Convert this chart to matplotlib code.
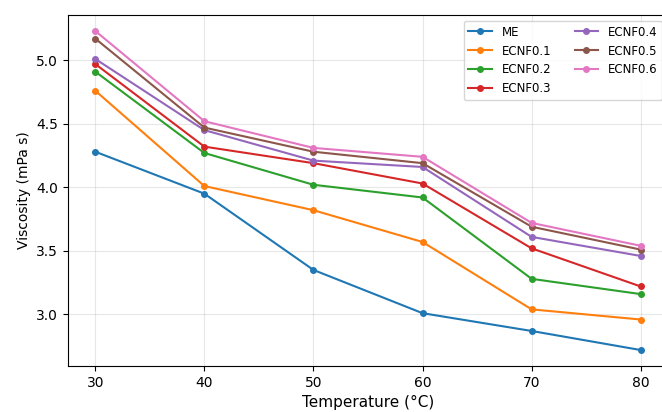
import matplotlib
matplotlib.use('Agg')
import matplotlib.pyplot as plt

temps = [30, 40, 50, 60, 70, 80]
labels = ['ME', 'ECNF0.1', 'ECNF0.2', 'ECNF0.3', 'ECNF0.4', 'ECNF0.5', 'ECNF0.6']
me = [4.28, 3.95, 3.35, 3.01, 2.87, 2.72]
ecnf01 = [4.76, 4.01, 3.82, 3.57, 3.04, 2.96]
ecnf02 = [4.91, 4.27, 4.02, 3.92, 3.28, 3.16]
ecnf03 = [4.97, 4.32, 4.19, 4.03, 3.52, 3.22]
ecnf04 = [5.01, 4.45, 4.21, 4.16, 3.61, 3.46]
ecnf05 = [5.17, 4.47, 4.28, 4.19, 3.69, 3.51]
ecnf06 = [5.23, 4.52, 4.31, 4.24, 3.72, 3.54]
series = [me, ecnf01, ecnf02, ecnf03, ecnf04, ecnf05, ecnf06]

fig = plt.figure(figsize=(6.62, 4.12), dpi=100)
# axes run slightly past the right edge, as in the cropped original
ax = fig.add_axes([68 / 662, 46 / 412, 600 / 662, 351 / 412])

for lab, vals in zip(labels, series):
    ax.plot(temps, vals, marker='o', markersize=4, linewidth=1.5, label=lab)

ax.grid(True, alpha=0.3)
ax.set_xlabel('Temperature (°C)', fontsize=11)
ax.set_ylabel('Viscosity (mPa s)', fontsize=10)
ax.set_xticks(temps)
ax.legend(ncol=2, fontsize=8.5, loc='upper right')

fig.savefig('out.png', dpi=100)
